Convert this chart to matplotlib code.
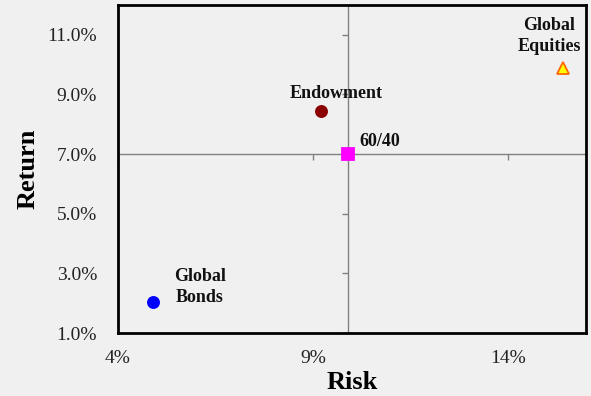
import matplotlib
matplotlib.use("Agg")
from matplotlib import pyplot as plt

# risk / return of each portfolio (in %)
names = ["Global\nBonds", "Endowment", "60/40", "Global\nEquities"]
risk = [4.9, 9.2, 9.9, 15.4]
ret = [2.05, 8.45, 7.0, 9.9]
markers = ["o", "o", "s", "^"]
faces = ["#0000ff", "#8b0000", "#ff00ff", "#ffff00"]
edges = ["#0000ff", "#8b0000", "#ff00ff", "#ff6600"]
label_offsets = [(1.2, 0.5), (0.4, 0.58), (0.8, 0.42), (-0.35, 1.07)]

x_ticks = [4, 9, 14]
y_ticks = [1, 3, 5, 7, 9, 11]

plt.rcParams['font.family'] = ['Liberation Serif', 'DejaVu Serif']
bg = "#f0f0f0"

fig = plt.figure(figsize=(5.91, 3.96), dpi=100, facecolor=bg)
ax = fig.add_axes([118 / 591, 1 - 333 / 396, 468 / 591, 328 / 396])
ax.set_facecolor(bg)

ax.set_xlim(4, 16)
ax.set_ylim(1, 12)

# crosshair axes through the 60/40 point
cx, cy = risk[2], ret[2]
ax.axvline(cx, color="#808080", lw=1, zorder=1)
ax.axhline(cy, color="#808080", lw=1, zorder=1)
ax.plot([cx] * len(y_ticks), y_ticks, ls="none", marker=0, ms=4, mew=1, color="#808080", zorder=1)
ax.plot(x_ticks, [cy] * len(x_ticks), ls="none", marker=3, ms=4, mew=1, color="#808080", zorder=1)

for i in range(len(names)):
    ax.plot(risk[i], ret[i], marker=markers[i], ms=8,
            mfc=faces[i], mec=edges[i], mew=1.3, ls="none", zorder=3)
    dx, dy = label_offsets[i]
    ax.text(risk[i] + dx, ret[i] + dy, names[i], ha="center", va="center",
            fontsize=13, fontweight="bold", linespacing=1.3, color="#111111", zorder=4)

ax.set_xticks(x_ticks)
ax.set_xticklabels([f"{t}%" for t in x_ticks])
ax.set_yticks(y_ticks)
ax.set_yticklabels([f"{t:.1f}%" for t in y_ticks])
ax.tick_params(length=0, labelsize=14, labelcolor="#222222", pad=12)
ax.tick_params(axis="y", pad=15)

for s in ax.spines.values():
    s.set_linewidth(2)
    s.set_color("black")

ax.set_xlabel("Risk", fontsize=19, fontweight="bold", labelpad=3)
ax.set_ylabel("Return", fontsize=19, fontweight="bold", labelpad=6)

fig.savefig("out.png", dpi=100, facecolor=bg)
